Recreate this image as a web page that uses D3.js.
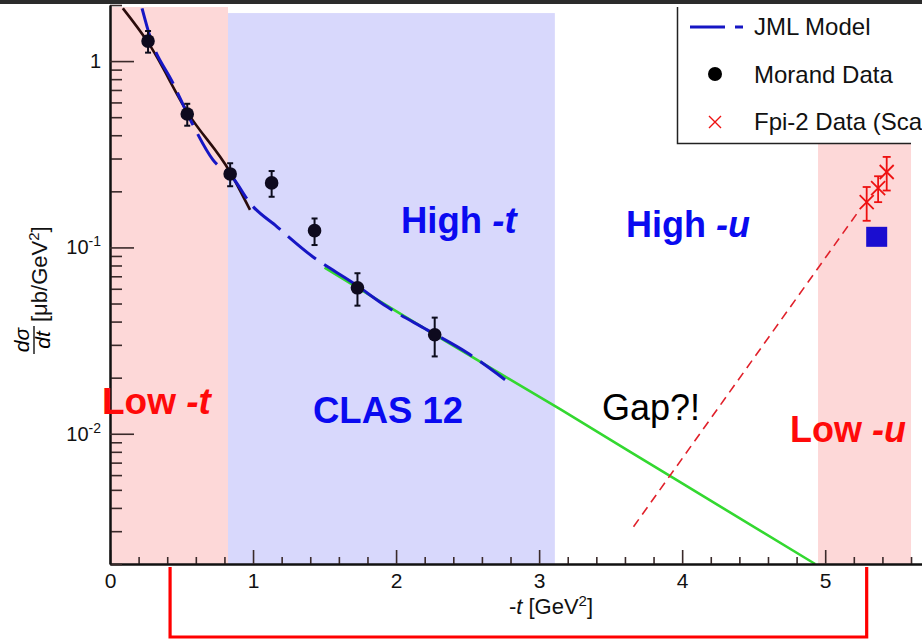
<!DOCTYPE html>
<html>
<head>
<meta charset="utf-8">
<script src="https://cdn.jsdelivr.net/npm/d3@7"></script>
<style>
body { margin: 0; background: #fff; }
svg { display: block; font-family: "Liberation Sans", Arial, sans-serif; }
</style>
</head>
<body>
<svg width="922" height="642"></svg>
<script>
// Morand data
var morandT = [0.266, 0.54, 0.84, 1.13, 1.43, 1.73, 2.27];
var morandY = [1.28, 0.52, 0.248, 0.222, 0.123, 0.0607, 0.034];
var morandErr = [0.17, 0.07, 0.035, 0.035, 0.02, 0.012, 0.008];

// JML model (dashed blue)
var jmlT = [0.224, 0.28, 0.44, 0.573, 0.72, 0.86, 0.979, 1.168, 1.42, 1.70, 1.937, 2.217, 2.497, 2.762];
var jmlY = [1.92, 1.35, 0.762, 0.465, 0.295, 0.236, 0.173, 0.129, 0.0889, 0.0645, 0.048, 0.0361, 0.0272, 0.0195];

// black solid curve at low -t
var reggeT = [0.09, 0.266, 0.545, 0.839, 0.979];
var reggeY = [1.92, 1.26, 0.526, 0.254, 0.159];

// green extrapolation
var greenT = [1.5, 2.27, 3.15, 3.92, 4.93];
var greenY = [0.078, 0.034, 0.0135, 0.0059, 0.002];

// Fpi-2 data (scaled)
var fpiT = [5.29, 5.37, 5.43];
var fpiY = [0.175, 0.208, 0.254];
var fpiErr = [0.036, 0.033, 0.052];

// blue square point
var squareT = [5.36];
var squareY = [0.114];

// red dashed u-channel line
var uT = [3.66, 5.24];
var uY = [0.00317, 0.159];

// shaded regions [t0, t1, yTop, colour]
var regionT0 = [0, 0.825, 4.95];
var regionT1 = [0.825, 3.11, 5.6];
var regionTop = [2, 1.81, 0.377];
var regionCol = ["#fdd8d8", "#d8d8fc", "#fdd8d8"];

// bracket under axis
var bracketT = [0.42, 5.29];

var xMajor = [0, 1, 2, 3, 4, 5];
var yMajor = [1, 0.1, 0.01];
var yLabels = [["1", ""], ["10", "-1"], ["10", "-2"]];

var legendNames = ["JML Model", "Morand Data", "Fpi-2 Data (Scaled)"];

var svg = d3.select("svg");

var x = d3.scaleLinear().domain([0, 5.8]).range([110, 110 + 5.8 * 143.04]);
var y = d3.scaleLog().domain([0.002, 2]).range([564, 5]);

// dark strip at the very top
svg.append("rect").attr("x", 0).attr("y", 0).attr("width", 922).attr("height", 4).attr("fill", "#2b2b2b");

svg.append("defs").append("clipPath").attr("id", "plot")
	.append("rect").attr("x", 110).attr("y", 7).attr("width", 801).attr("height", 557);

// regions
svg.selectAll("rect.region")
	.data(regionT0)
	.enter()
	.append("rect")
	.attr("class", "region")
	.attr("x", d => x(d))
	.attr("width", (d, i) => x(regionT1[i]) - x(d))
	.attr("y", (d, i) => i == 0 ? 7 : y(regionTop[i]))
	.attr("height", (d, i) => 564 - (i == 0 ? 7 : y(regionTop[i])))
	.attr("fill", (d, i) => regionCol[i]);

var plot = svg.append("g").attr("clip-path", "url(#plot)");

var line = d3.line().x(d => x(d[0])).y(d => y(d[1])).curve(d3.curveMonotoneX);

plot.append("path")
	.attr("d", line(greenT.map((t, i) => [t, greenY[i]])))
	.attr("fill", "none").attr("stroke", "#33d830").attr("stroke-width", 2.6);

plot.append("path")
	.attr("d", line(reggeT.map((t, i) => [t, reggeY[i]])))
	.attr("fill", "none").attr("stroke", "#2a0c0c").attr("stroke-width", 2.6);

plot.append("path")
	.attr("d", line(jmlT.map((t, i) => [t, jmlY[i]])))
	.attr("fill", "none").attr("stroke", "#1616c4").attr("stroke-width", 3)
	.attr("stroke-dasharray", "36,10");

plot.append("path")
	.attr("d", d3.line().x(d => x(d[0])).y(d => y(d[1]))(uT.map((t, i) => [t, uY[i]])))
	.attr("fill", "none").attr("stroke", "#e0202a").attr("stroke-width", 1.6)
	.attr("stroke-dasharray", "9,6");

// Morand points
var mg = plot.selectAll("g.morand")
	.data(morandT)
	.enter()
	.append("g")
	.attr("class", "morand");
mg.append("line")
	.attr("x1", d => x(d)).attr("x2", d => x(d))
	.attr("y1", (d, i) => y(morandY[i] + morandErr[i]))
	.attr("y2", (d, i) => y(morandY[i] - morandErr[i]))
	.attr("stroke", "#0c0c1c").attr("stroke-width", 2);
[1, -1].forEach(s => {
	mg.append("line")
		.attr("x1", d => x(d) - 3).attr("x2", d => x(d) + 3)
		.attr("y1", (d, i) => y(morandY[i] + s * morandErr[i]))
		.attr("y2", (d, i) => y(morandY[i] + s * morandErr[i]))
		.attr("stroke", "#0c0c1c").attr("stroke-width", 2);
});
mg.append("circle")
	.attr("cx", d => x(d)).attr("cy", (d, i) => y(morandY[i]))
	.attr("r", 6.8).attr("fill", "#0e0a1e");

// blue square
plot.selectAll("rect.sq")
	.data(squareT)
	.enter()
	.append("rect")
	.attr("class", "sq")
	.attr("x", d => x(d) - 10.5)
	.attr("y", (d, i) => y(squareY[i]) - 10)
	.attr("width", 21).attr("height", 20)
	.attr("fill", "#1a0dd0");

// Fpi-2 points
var fg = plot.selectAll("g.fpi")
	.data(fpiT)
	.enter()
	.append("g")
	.attr("class", "fpi")
	.attr("stroke", "#ee1111").attr("stroke-width", 1.8);
fg.append("line")
	.attr("x1", d => x(d)).attr("x2", d => x(d))
	.attr("y1", (d, i) => y(fpiY[i] + fpiErr[i]))
	.attr("y2", (d, i) => y(fpiY[i] - fpiErr[i]));
[1, -1].forEach(s => {
	fg.append("line")
		.attr("x1", d => x(d) - 4).attr("x2", d => x(d) + 4)
		.attr("y1", (d, i) => y(fpiY[i] + s * fpiErr[i]))
		.attr("y2", (d, i) => y(fpiY[i] + s * fpiErr[i]));
});
[1, -1].forEach(s => {
	fg.append("line")
		.attr("x1", d => x(d) - 7).attr("x2", d => x(d) + 7)
		.attr("y1", (d, i) => y(fpiY[i]) - 7 * s)
		.attr("y2", (d, i) => y(fpiY[i]) + 7 * s);
});

// axes
var axisCol = "#111";
var xMinor = d3.range(0, 5.81, 0.2).filter(v => Math.abs(v - Math.round(v)) > 1e-6);
svg.append("g").attr("transform", "translate(0,564)")
	.call(d3.axisBottom(x).tickValues(xMinor).tickSize(-7).tickFormat("").tickSizeOuter(0));
svg.append("g").attr("class", "xmaj").attr("transform", "translate(0,564)")
	.call(d3.axisBottom(x).tickValues(xMajor).tickSize(-14).tickPadding(9).tickFormat(d3.format("d")).tickSizeOuter(0));

var yMinor = [];
[0.001, 0.01, 0.1, 1].forEach(dec => {
	for (var k = 2; k <= 9; k++) {
		var v = dec * k;
		if (v >= 0.002 && v <= 2) yMinor.push(v);
	}
});
svg.append("g").attr("transform", "translate(110,0)")
	.call(d3.axisLeft(y).tickValues(yMinor).tickSize(-12).tickFormat("").tickSizeOuter(0));
svg.append("g").attr("transform", "translate(110,0)")
	.call(d3.axisLeft(y).tickValues(yMajor).tickSize(-24).tickFormat("").tickSizeOuter(0));

svg.selectAll(".domain").attr("stroke", axisCol).attr("stroke-width", 2);
svg.selectAll(".tick line").attr("stroke", "#3a2a2a").attr("stroke-width", 1.6);
svg.selectAll(".xmaj .tick text").attr("font-size", 21).attr("fill", "#111")
	.attr("font-family", "Liberation Sans, Arial, sans-serif");

// y tick labels with exponents
yMajor.forEach((v, i) => {
	var t = svg.append("text")
		.attr("x", 101).attr("y", y(v) + 7)
		.attr("text-anchor", "end")
		.attr("font-size", 20).attr("fill", "#111");
	t.append("tspan").text(yLabels[i][0]);
	if (yLabels[i][1]) {
		t.append("tspan").attr("dy", -8).attr("font-size", 14).text(yLabels[i][1]);
	}
});

// x axis title
var xt = svg.append("text").attr("x", 551).attr("y", 614).attr("text-anchor", "middle")
	.attr("font-size", 22).attr("fill", "#111");
xt.append("tspan").text("-");
xt.append("tspan").attr("font-style", "italic").text("t");
xt.append("tspan").text(" [GeV");
xt.append("tspan").attr("dy", -8).attr("font-size", 15).text("2");
xt.append("tspan").attr("dy", 8).text("]");

// y axis title
var yt = svg.append("g").attr("transform", "rotate(-90)");
yt.append("text").attr("x", -340).attr("y", 29).attr("text-anchor", "middle")
	.attr("font-size", 21).attr("font-style", "italic").text("d\u03C3");
yt.append("line").attr("x1", -354).attr("x2", -326).attr("y1", 34).attr("y2", 34)
	.attr("stroke", "#111").attr("stroke-width", 1.4);
yt.append("text").attr("x", -340).attr("y", 50).attr("text-anchor", "middle")
	.attr("font-size", 21).attr("font-style", "italic").text("dt");
var yu = yt.append("text").attr("x", -322).attr("y", 47).attr("font-size", 22).attr("fill", "#111");
yu.append("tspan").text("[\u03BCb/GeV");
yu.append("tspan").attr("dy", -8).attr("font-size", 15).text("2");
yu.append("tspan").attr("dy", 8).text("]");

// legend
svg.append("rect").attr("x", 677).attr("y", 4).attr("width", 260).attr("height", 139)
	.attr("fill", "#fff");
svg.append("path").attr("d", "M677.5,7V143.5H911")
	.attr("fill", "none").attr("stroke", "#222").attr("stroke-width", 1.5);
svg.append("line").attr("x1", 690).attr("x2", 743).attr("y1", 27).attr("y2", 27)
	.attr("stroke", "#1616c4").attr("stroke-width", 3).attr("stroke-dasharray", "35,10");
svg.append("circle").attr("cx", 715).attr("cy", 74).attr("r", 7).attr("fill", "#000");
svg.append("path").attr("d", "M709,116L721,128M709,128L721,116")
	.attr("stroke", "#ee1111").attr("stroke-width", 1.4);
svg.selectAll("text.leg")
	.data(legendNames)
	.enter()
	.append("text")
	.attr("class", "leg")
	.attr("x", 754)
	.attr("y", (d, i) => 35 + i * 47.5)
	.attr("font-size", 24)
	.attr("fill", "#111")
	.text(d => d);

// annotations
function label(px, py, main, ital, col, fs) {
	var t = svg.append("text").attr("x", px).attr("y", py)
		.attr("font-size", fs).attr("font-weight", "bold").attr("fill", col);
	t.append("tspan").text(main);
	if (ital) t.append("tspan").attr("font-style", "italic").text(ital);
}
label(401, 233, "High ", "-t", "#0a0af0", 36.5);
label(626, 237, "High ", "-u", "#0a0af0", 36);
label(313, 423, "CLAS 12", "", "#0a0af0", 36.5);
label(102, 414, "Low ", "-t", "#ff0a0a", 37);
label(790, 442, "Low ", "-u", "#ff0a0a", 36);
svg.append("text").attr("x", 602).attr("y", 420).attr("font-size", 36).attr("fill", "#000").text("Gap?!");

// red bracket below the axis
svg.append("path")
	.attr("d", "M" + x(bracketT[0]) + ",567V637H" + x(bracketT[1]) + "V567")
	.attr("fill", "none").attr("stroke", "#ff0000").attr("stroke-width", 3.2);
</script>
</body>
</html>
